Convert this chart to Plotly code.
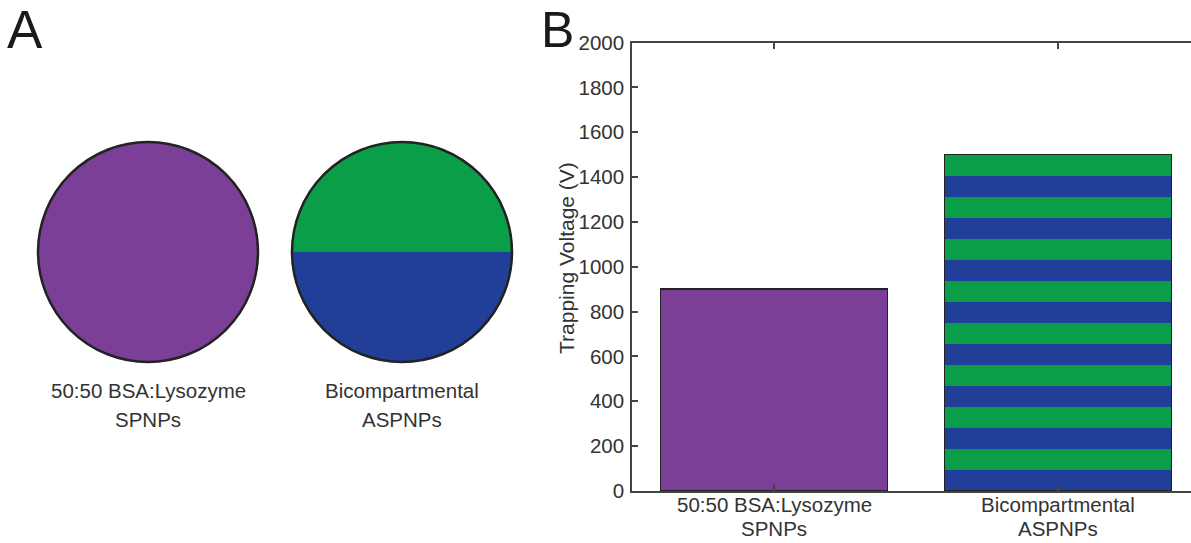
import numpy as np
import plotly.graph_objects as go

# ---- data ----
categories = ["50:50 BSA:Lysozyme SPNPs", "Bicompartmental ASPNPs"]
category_lines = [("50:50 BSA:Lysozyme", "SPNPs"), ("Bicompartmental", "ASPNPs")]
trapping_voltage = [900, 1500]          # V
y_ticks = [0, 200, 400, 600, 800, 1000, 1200, 1400, 1600, 1800, 2000]

# ---- style ----
W, H = 1191, 543
PURPLE = "#7C3F97"
GREEN = "#0A9E48"
BLUE = "#213F99"
AXIS = "#444444"
TEXT = "#333333"
FONT = "Liberation Sans, Arial, sans-serif"
FS = 20.5
N_STRIPES = 16


def px(x):
    return x / W


def py(y):
    return 1 - y / H


fig = go.Figure()

# solid bar
fig.add_trace(go.Bar(
    x=[categories[0]], y=[trapping_voltage[0]],
    marker=dict(color=PURPLE, line=dict(color="#222222", width=1.5)),
    showlegend=False, hoverinfo="skip",
))

# striped bar: equal stacked bands, blue at the bottom
band = trapping_voltage[1] / N_STRIPES
for i in range(N_STRIPES):
    fig.add_trace(go.Bar(
        x=[categories[1]], y=[band],
        marker=dict(color=BLUE if i % 2 == 0 else GREEN, line=dict(width=0)),
        showlegend=False, hoverinfo="skip",
    ))

# outline around the striped bar
fig.add_trace(go.Bar(
    x=[categories[1]], y=[trapping_voltage[1]], base=[0],
    marker=dict(color="rgba(0,0,0,0)", line=dict(color="#222222", width=1.5)),
    showlegend=False, hoverinfo="skip",
))

# ---- panel A: particle schematics ----
shapes = []
r = 110
centers = [(148, 252), (402, 252)]

# uniform particle
cx, cy = centers[0]
shapes.append(dict(type="circle", xref="paper", yref="paper",
                   x0=px(cx - r), x1=px(cx + r), y0=py(cy + r), y1=py(cy - r),
                   fillcolor=PURPLE, line=dict(color="#222222", width=2.5), layer="above"))

# two-faced particle: green top, blue bottom half
cx, cy = centers[1]
shapes.append(dict(type="circle", xref="paper", yref="paper",
                   x0=px(cx - r), x1=px(cx + r), y0=py(cy + r), y1=py(cy - r),
                   fillcolor=GREEN, line=dict(width=0), layer="above"))
theta = np.linspace(0, np.pi, 121)
pts = [(px(cx + r * np.cos(t)), py(cy + r * np.sin(t))) for t in theta]
path = "M " + " L ".join(f"{x:.5f},{y:.5f}" for x, y in pts) + " Z"
shapes.append(dict(type="path", xref="paper", yref="paper", path=path,
                   fillcolor=BLUE, line=dict(width=0), layer="above"))
shapes.append(dict(type="circle", xref="paper", yref="paper",
                   x0=px(cx - r), x1=px(cx + r), y0=py(cy + r), y1=py(cy - r),
                   fillcolor="rgba(0,0,0,0)", line=dict(color="#222222", width=2.5), layer="above"))

annotations = []
for (cx, _), (l1, l2) in zip(centers, category_lines):
    annotations.append(dict(x=px(cx), y=py(390), text=l1, showarrow=False,
                            xref="paper", yref="paper", xanchor="center", yanchor="middle",
                            font=dict(family=FONT, size=FS, color=TEXT)))
    annotations.append(dict(x=px(cx), y=py(419), text=l2, showarrow=False,
                            xref="paper", yref="paper", xanchor="center", yanchor="middle",
                            font=dict(family=FONT, size=FS, color=TEXT)))

# category labels under the bars (two lines each)
for cat, (l1, l2) in zip(categories, category_lines):
    annotations.append(dict(x=cat, y=py(518), text=l1, showarrow=False,
                            xref="x", yref="paper", xanchor="center", yanchor="bottom",
                            font=dict(family=FONT, size=FS, color=TEXT)))
    annotations.append(dict(x=cat, y=py(542), text=l2, showarrow=False,
                            xref="x", yref="paper", xanchor="center", yanchor="bottom",
                            font=dict(family=FONT, size=FS, color=TEXT)))

# panel letters
annotations.append(dict(x=px(5), y=py(30), text="A", showarrow=False,
                        xref="paper", yref="paper", xanchor="left", yanchor="middle",
                        font=dict(family=FONT, size=53, color="#1a1a1a")))
annotations.append(dict(x=px(539), y=py(30), text="B", showarrow=False,
                        xref="paper", yref="paper", xanchor="left", yanchor="middle",
                        font=dict(family=FONT, size=50, color="#1a1a1a")))

# y-axis title
annotations.append(dict(x=px(566), y=py(258), text="Trapping Voltage (V)", showarrow=False,
                        xref="paper", yref="paper", xanchor="center", yanchor="middle",
                        textangle=-90, font=dict(family=FONT, size=21, color=TEXT)))

fig.update_layout(
    width=W, height=H,
    margin=dict(l=0, r=0, t=0, b=0),
    paper_bgcolor="white", plot_bgcolor="white",
    barmode="stack", bargap=0.2,
    shapes=shapes, annotations=annotations,
    font=dict(family=FONT, size=FS, color=TEXT),
    xaxis=dict(
        domain=[px(632), 1.0],
        range=[-0.5, 1.468],
        automargin=False,
        showline=True, linecolor=AXIS, linewidth=1.5, mirror="ticks",
        ticks="inside", ticklen=7, tickwidth=1.5, tickcolor=AXIS,
        showgrid=False, zeroline=False, showticklabels=False,
    ),
    yaxis=dict(
        domain=[py(491), py(42.5)],
        range=[0, 2000],
        tickvals=y_ticks,
        automargin=False,
        showline=True, linecolor=AXIS, linewidth=1.5, mirror=False,
        ticks="inside", ticklen=6, tickwidth=1.5, tickcolor=AXIS,
        showgrid=False, zeroline=False, ticklabelstandoff=2,
        tickfont=dict(family=FONT, size=FS, color=TEXT),
    ),
)

fig.write_html("out.html")
